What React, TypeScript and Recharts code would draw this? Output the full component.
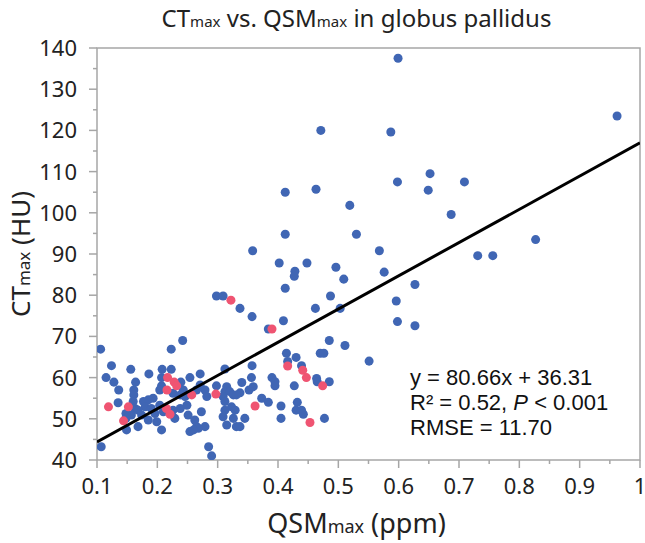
import React from 'react';
import { ScatterChart, Scatter, XAxis, YAxis, ReferenceArea } from 'recharts';

// ---- data ----
const blueQSM = [
  0.599, 0.962, 0.471, 0.587, 0.652, 0.598, 0.709, 0.649, 0.463, 0.412,
  0.519, 0.687, 0.412, 0.53, 0.827, 0.358, 0.568, 0.731, 0.756, 0.402,
  0.448, 0.496, 0.428, 0.427, 0.576, 0.509, 0.627, 0.412, 0.487, 0.596,
  0.298, 0.309, 0.337, 0.462, 0.503, 0.357, 0.409, 0.598, 0.627, 0.384,
  0.485, 0.511, 0.242, 0.106, 0.223, 0.414, 0.47, 0.476, 0.43, 0.551,
  0.416, 0.124, 0.357, 0.439, 0.156, 0.208, 0.223, 0.312, 0.186, 0.271,
  0.115, 0.207, 0.254, 0.39, 0.356, 0.464, 0.128, 0.164, 0.239, 0.395,
  0.465, 0.485, 0.34, 0.207, 0.298, 0.271, 0.395, 0.427, 0.359, 0.315,
  0.136, 0.161, 0.265, 0.279, 0.204, 0.243, 0.352, 0.312, 0.32, 0.337,
  0.226, 0.161, 0.238, 0.326, 0.331, 0.282, 0.246, 0.309, 0.373, 0.193,
  0.185, 0.135, 0.16, 0.177, 0.312, 0.384, 0.432, 0.204, 0.249, 0.18,
  0.323, 0.405, 0.19, 0.238, 0.163, 0.168, 0.226, 0.329, 0.312, 0.43,
  0.439, 0.21, 0.273, 0.148, 0.196, 0.442, 0.174, 0.157, 0.251, 0.309,
  0.148, 0.229, 0.326, 0.345, 0.405, 0.477, 0.185, 0.262, 0.199, 0.315,
  0.168, 0.279, 0.265, 0.331, 0.337, 0.268, 0.149, 0.207, 0.26, 0.254,
  0.107, 0.285, 0.29,
];
const blueCT = [
  137.5, 123.5, 120, 119.6, 109.5, 107.5, 107.5, 105.5, 105.7, 105,
  101.8, 99.6, 94.8, 94.8, 93.5, 90.8, 90.8, 89.6, 89.6, 87.8,
  87.8, 86.8, 85.8, 84.6, 85.6, 83.9, 82.6, 81.7, 79.8, 78.6,
  79.8, 79.8, 76.8, 76.8, 76.8, 74.8, 73.8, 73.6, 72.6, 71.8,
  69, 67.8, 69, 66.9, 66.9, 65.9, 65.9, 65.9, 64.9, 64,
  63.9, 62.9, 62.9, 62.9, 62, 62, 62, 62.1, 60.9, 60.9,
  60, 60, 60, 60, 60, 59.8, 58.9, 58.9, 58.9, 59,
  59, 59, 58.8, 58, 58, 58.2, 58, 58, 57.8, 57.8,
  57, 57, 57, 57, 57, 57, 57, 56.6, 56.6, 56.3,
  56.2, 55.8, 55.8, 55.8, 55.8, 55.4, 55.4, 55.4, 55, 55,
  54.6, 53.9, 54.2, 54.2, 54.2, 54, 54, 53.3, 53.3, 52.9,
  52.9, 53.1, 52.5, 52.5, 52.5, 52.1, 52.1, 52.1, 52.1, 52.1,
  52.1, 51.7, 51.7, 51.3, 51.3, 51.1, 50.9, 50.9, 50.9, 50.5,
  50.1, 50.1, 50.1, 50.1, 50.1, 50.1, 49.7, 49.7, 49.3, 48.5,
  48.1, 48.1, 48.1, 48.1, 48.1, 47.7, 47.3, 47.3, 47.3, 46.9,
  43.2, 43.2, 41,
];
const redQSM = [
  0.322, 0.39, 0.416, 0.441, 0.217, 0.447, 0.228, 0.232, 0.474, 0.216,
  0.297, 0.257, 0.362, 0.119, 0.152, 0.215, 0.221, 0.144, 0.453,
];
const redCT = [
  78.8, 71.8, 62.8, 61.8, 60, 60, 58.9, 58, 58, 57,
  56, 55.8, 53.1, 52.9, 52.9, 52.5, 51.1, 49.5, 49.1,
];
const fitSlope = 80.66;
const fitIntercept = 36.31;
const fitRange = [0.1, 1];

const xMajorTicks = [0.1, 0.2, 0.3, 0.4, 0.5, 0.6, 0.7, 0.8, 0.9, 1];
const xMinorTicks = [0.15, 0.25, 0.35, 0.45, 0.55, 0.65, 0.75, 0.85, 0.95];
const yMajorTicks = [40, 50, 60, 70, 80, 90, 100, 110, 120, 130, 140];
const yMinorTicks = [45, 55, 65, 75, 85, 95, 105, 115, 125, 135];

const blueData = blueQSM.map((x, i) => ({ x, y: blueCT[i] }));
const redData = redQSM.map((x, i) => ({ x, y: redCT[i] }));
const lineData = fitRange.map((x) => ({ x, y: fitSlope * x + fitIntercept }));

const W = 645;
const H = 543;
const M = { top: 48, right: 5, bottom: 43, left: 37 };
const Y_AXIS_W = 60;
const X_AXIS_H = 40;
const AXIS_COLOR = '#A6A6A6';
const TICK_FONT = '"Noto Sans", sans-serif';
const TEXT_COLOR = '#222222';
const BLUE = '#4066B4';
const RED = '#EF5472';

const isIn = (arr: number[], v: number) => arr.some((t) => Math.abs(t - v) < 1e-6);

const XTick = (props: any) => {
  const { x, y, payload } = props;
  const v = payload.value;
  const major = isIn(xMajorTicks, v);
  return (
    <g>
      <line x1={x} x2={x} y1={y} y2={y + (major ? 8 : 4)} stroke={AXIS_COLOR} strokeWidth={1.5} />
      {major && (
        <text x={x} y={y + 34} textAnchor="middle" fontSize={22} fontFamily={TICK_FONT} fill={TEXT_COLOR}>
          {v === 1 ? '1' : v.toFixed(1)}
        </text>
      )}
    </g>
  );
};

const YTick = (props: any) => {
  const { x, y, payload } = props;
  const v = payload.value;
  const major = isIn(yMajorTicks, v);
  return (
    <g>
      <line x1={x - (major ? 8 : 4)} x2={x} y1={y} y2={y} stroke={AXIS_COLOR} strokeWidth={1.5} />
      {major && (
        <text x={x - 20} y={y} dy="0.36em" textAnchor="end" fontSize={22} fontFamily={TICK_FONT} fill={TEXT_COLOR}>
          {String(v)}
        </text>
      )}
    </g>
  );
};

const NoShape = () => <g />;

export default function App() {
  const plotLeft = M.left + Y_AXIS_W;
  const plotRight = W - M.right;
  const plotTop = M.top;
  const plotBottom = H - M.bottom - X_AXIS_H;
  const cx = (plotLeft + plotRight) / 2;
  const cy = (plotTop + plotBottom) / 2;
  return (
    <div style={{ position: 'absolute', left: 0, top: 0, width: W, height: H, background: '#fff' }}>
      <ScatterChart width={W} height={H} margin={M}>
        <XAxis
          type="number"
          dataKey="x"
          domain={[0.1, 1]}
          ticks={[...xMajorTicks, ...xMinorTicks].sort((a, b) => a - b)}
          interval={0}
          axisLine={false}
          tickLine={false}
          tickSize={0}
          tickMargin={0}
          height={X_AXIS_H}
          tick={<XTick />}
          allowDataOverflow
        />
        <YAxis
          type="number"
          dataKey="y"
          domain={[40, 140]}
          ticks={[...yMajorTicks, ...yMinorTicks].sort((a, b) => a - b)}
          interval={0}
          axisLine={false}
          tickLine={false}
          tickSize={0}
          tickMargin={0}
          width={Y_AXIS_W}
          tick={<YTick />}
          allowDataOverflow
        />
        <ReferenceArea x1={0.1} x2={1} y1={40} y2={140} fill="none" stroke={AXIS_COLOR} strokeWidth={1.5} />
        <Scatter data={blueData} fill={BLUE} isAnimationActive={false} />
        <Scatter data={redData} fill={RED} isAnimationActive={false} />
        <Scatter
          data={lineData}
          line={{ stroke: '#000', strokeWidth: 3 }}
          lineType="joint"
          shape={<NoShape />}
          isAnimationActive={false}
        />
        <text x={cx - 12} y={27} textAnchor="middle" fontSize={24} fontFamily={TICK_FONT} fill={TEXT_COLOR}>
          <tspan>CT</tspan>
          <tspan fontSize={15}>max</tspan>
          <tspan> vs. QSM</tspan>
          <tspan fontSize={15}>max</tspan>
          <tspan> in globus pallidus</tspan>
        </text>
        <text x={cx - 12} y={533} textAnchor="middle" fontSize={27} fontFamily={TICK_FONT} fill={TEXT_COLOR}>
          <tspan>QSM</tspan>
          <tspan fontSize={18}>max</tspan>
          <tspan> (ppm)</tspan>
        </text>
        <text
          x={0}
          y={0}
          transform={`translate(30, ${cy}) rotate(-90)`}
          textAnchor="middle"
          fontSize={26}
          fontFamily={TICK_FONT}
          fill={TEXT_COLOR}
        >
          <tspan>CT</tspan>
          <tspan fontSize={17}>max</tspan>
          <tspan> (HU)</tspan>
        </text>
        <g fontFamily='"Liberation Sans", Arial, sans-serif' fontSize={22} fill="#111">
          <text x={410} y={385}>y = 80.66x + 36.31</text>
          <text x={410} y={410}>
            R² = 0.52, <tspan fontStyle="italic">P</tspan> &lt; 0.001
          </text>
          <text x={410} y={435}>RMSE = 11.70</text>
        </g>
      </ScatterChart>
    </div>
  );
}
